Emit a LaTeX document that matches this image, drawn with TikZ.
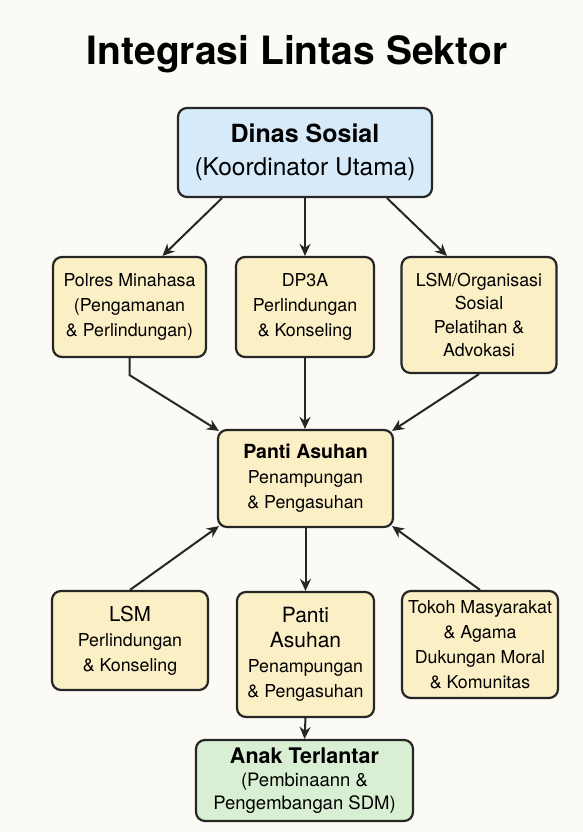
\documentclass[tikz,border=0pt]{standalone}
\usepackage{fontspec}
\setmainfont{TeX Gyre Heros}
\usetikzlibrary{arrows.meta}

\definecolor{bgcream}{HTML}{FCFAF4}
\definecolor{boxline}{HTML}{262626}
\definecolor{fillkuning}{HTML}{FBEFC6}
\definecolor{fillbiru}{HTML}{D6EAFA}
\definecolor{fillhijau}{HTML}{D9EFD3}

\tikzset{every picture/.style={line width=2.2pt}}
\tikzset{
  kotak/.style={draw=boxline, line width=2.2pt, rounded corners=9pt, fill=fillkuning,
    align=center, inner sep=0pt, font=\fontsize{17.8}{25}\selectfont},
  panah/.style={draw=boxline, line width=2pt, -{Stealth[length=12pt,width=11pt]}}
}

\begin{document}
\begin{tikzpicture}[x=1pt,y=1pt,yscale=-1,xscale=1]
%set diagram to the size of the page
\useasboundingbox (0,0) rectangle (583,832);
\fill[bgcream] (0,0) rectangle (583,832);

% Text Node
\node (title) at (297,54) [font=\bfseries\fontsize{39}{44}\selectfont] {Integrasi Lintas Sektor};

%Shape: Rounded Rect [id:dinas]
\node (dinas) at (305,152.5) [kotak, fill=fillbiru, minimum width=254pt, minimum height=89pt, font=\fontsize{24.5}{33}\selectfont]
  {{\bfseries\fontsize{25}{33}\selectfont Dinas Sosial}\\(Koordinator Utama)};

%Shape: Rounded Rect [id:polres]
\node (polres) at (129.5,307) [kotak, minimum width=153pt, minimum height=100pt]
  {Polres Minahasa\\(Pengamanan\\\& Perlindungan)};
%Shape: Rounded Rect [id:dp3a]
\node (dp3a) at (305,307) [kotak, minimum width=138pt, minimum height=100pt]
  {DP3A\\Perlindungan\\\& Konseling};
%Shape: Rounded Rect [id:lsmorg]
\node (lsmorg) at (479,315) [kotak, minimum width=155pt, minimum height=116pt, font=\fontsize{17.8}{23.5}\selectfont]
  {LSM/Organisasi\\Sosial\\Pelatihan \&\\Advokasi};

%Shape: Rounded Rect [id:pantimid]
\node (pantimid) at (305.5,478.5) [kotak, minimum width=175pt, minimum height=97pt]
  {{\bfseries\fontsize{19.5}{25}\selectfont Panti Asuhan}\\Penampungan\\\& Pengasuhan};

%Shape: Rounded Rect [id:lsmbawah]
\node (lsmbawah) at (130,640.5) [kotak, minimum width=156pt, minimum height=99pt]
  {{\fontsize{20.5}{26}\selectfont LSM}\\Perlindungan\\\& Konseling};
%Shape: Rounded Rect [id:pantibawah]
\node (pantibawah) at (305.5,654.5) [kotak, minimum width=137pt, minimum height=125pt]
  {{\fontsize{21}{28}\selectfont Panti}\\{\fontsize{21}{28}\selectfont Asuhan}\\Penampungan\\\& Pengasuhan};
%Shape: Rounded Rect [id:tokoh]
\node (tokoh) at (480,644.5) [kotak, minimum width=156pt, minimum height=107pt]
  {Tokoh Masyarakat\\\& Agama\\Dukungan Moral\\\& Komunitas};

%Shape: Rounded Rect [id:anak]
\node (anak) at (304.5,780.5) [kotak, fill=fillhijau, minimum width=217pt, minimum height=81pt, font=\fontsize{18.5}{23}\selectfont]
  {{\bfseries\fontsize{21.5}{27}\selectfont Anak Terlantar}\\(Pembinaann \&\\Pengembangan SDM)};

%Straight Lines: dinas to row 2
\draw[panah] ([xshift=-83pt]dinas.south) -- ([xshift=33pt]polres.north);
\draw[panah] (dinas.south) -- (dp3a.north);
\draw[panah] ([xshift=82pt]dinas.south) -- ([xshift=-32pt]lsmorg.north);

%Straight Lines: row 2 to panti asuhan
\draw[panah] (polres.south) -- ++(0,17) -- ([xshift=2pt,yshift=2pt]pantimid.north west);
\draw[panah] (dp3a.south) -- (dp3a.south |- pantimid.north);
\draw[panah] (lsmorg.south) -- ([xshift=-2pt,yshift=2pt]pantimid.north east);

%Straight Lines: row 4 to panti asuhan
\draw[panah] (lsmbawah.north) -- ([xshift=2pt,yshift=-2pt]pantimid.south west);
\draw[panah] (pantimid.south) -- (pantibawah.north);
\draw[panah] (tokoh.north) -- ([xshift=-2pt,yshift=-2pt]pantimid.south east);

%Straight Lines: panti asuhan to anak terlantar
\draw[panah] (pantibawah.south) -- (anak.north);

\end{tikzpicture}
\end{document}
